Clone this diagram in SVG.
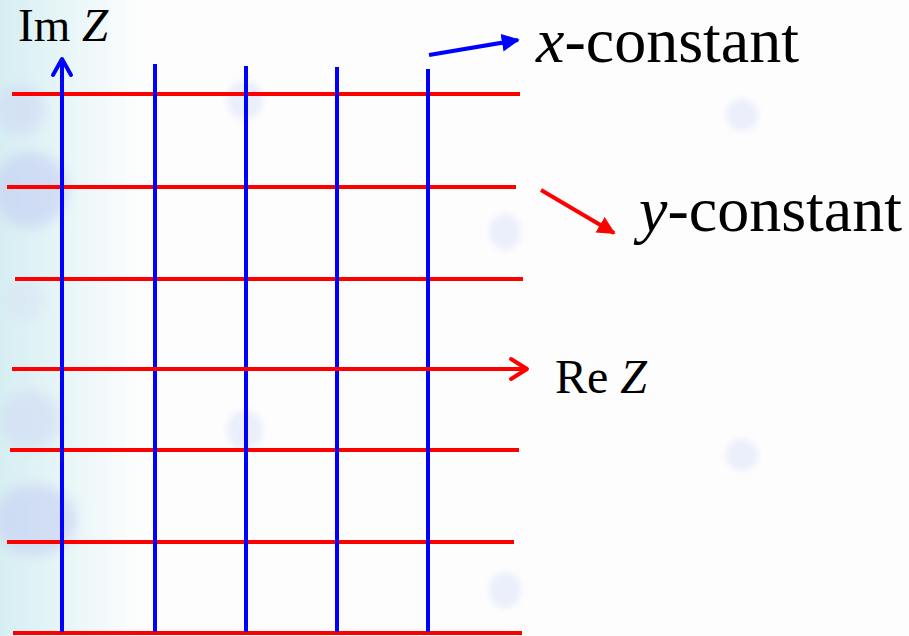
<svg xmlns="http://www.w3.org/2000/svg" width="909" height="636" viewBox="0 0 909 636">
<defs>
<style>
.h{stroke:#ff0000;stroke-width:4;fill:none}
.v{stroke:#0000ff;stroke-width:4;fill:none}
.t{font-family:"Liberation Serif","Times New Roman",serif;fill:#000}
.blob{fill:#ebeffb}
</style>
<linearGradient id="bg" x1="0" y1="0" x2="1" y2="0">
<stop offset="0" stop-color="#d6eef2"/>
<stop offset="0.5" stop-color="#e9f6f8"/>
<stop offset="1" stop-color="#fdfdfe"/>
</linearGradient>
<filter id="blur" x="-50%" y="-50%" width="200%" height="200%"><feGaussianBlur stdDeviation="6"/></filter>
<filter id="blur2" x="-50%" y="-50%" width="200%" height="200%"><feGaussianBlur stdDeviation="3"/></filter>
<marker id="ab" viewBox="0 0 10 10" refX="9" refY="5" markerWidth="4.5" markerHeight="4.5" orient="auto" markerUnits="strokeWidth"><path d="M0,0 L10,5 L0,10 Z" fill="#0000ff"/></marker>
<marker id="ar" viewBox="0 0 10 10" refX="9" refY="5" markerWidth="4.5" markerHeight="4.5" orient="auto" markerUnits="strokeWidth"><path d="M0,0 L10,5 L0,10 Z" fill="#ff0000"/></marker>
</defs>
<g id="background">
<rect width="909" height="636" fill="#fdfdfe"/>
<rect width="140" height="636" fill="url(#bg)"/>
<g filter="url(#blur)" opacity="0.65">
<ellipse cx="30" cy="190" rx="38" ry="38" fill="#c7d2f4"/>
<ellipse cx="20" cy="110" rx="25" ry="25" fill="#d0daf5"/>
<ellipse cx="35" cy="520" rx="42" ry="36" fill="#c9d3f4"/>
<ellipse cx="30" cy="420" rx="30" ry="30" fill="#d3ddf5"/>
<ellipse cx="25" cy="300" rx="20" ry="20" fill="#dae6f5"/>
</g>
<g filter="url(#blur2)">
<ellipse class="blob" cx="742" cy="115" rx="16" ry="16"/>
<ellipse class="blob" cx="742" cy="455" rx="16" ry="16"/>
<ellipse class="blob" cx="505" cy="232" rx="16" ry="18"/>
<ellipse class="blob" cx="505" cy="590" rx="16" ry="18"/>
<ellipse class="blob" cx="245" cy="100" rx="18" ry="20"/>
<ellipse class="blob" cx="245" cy="430" rx="18" ry="20"/>
</g>
</g>
<g id="grid">
<g id="y-lines">
<line class="h" x1="12" y1="94" x2="520" y2="94"/>
<line class="h" x1="7" y1="187" x2="516" y2="187"/>
<line class="h" x1="15" y1="279" x2="523" y2="279"/>
<line class="h" x1="10" y1="450" x2="519" y2="450"/>
<line class="h" x1="7" y1="542" x2="514" y2="542"/>
<line class="h" x1="13" y1="633" x2="522" y2="633"/>
</g>
<g id="x-lines">
<line class="v" x1="155" y1="64" x2="155" y2="632"/>
<line class="v" x1="246" y1="66" x2="246" y2="632"/>
<line class="v" x1="337" y1="67" x2="337" y2="632"/>
<line class="v" x1="428" y1="69" x2="428" y2="632"/>
</g>
</g>
<g id="axes">
<line class="h" x1="12" y1="369" x2="526" y2="369"/>
<polyline class="h" points="511,359 527,369 511,379" stroke-linecap="round" stroke-linejoin="round"/>
<line class="v" x1="62" y1="632" x2="62" y2="59"/>
<polyline class="v" points="53,75 62,59 71,75" stroke-linecap="round" stroke-linejoin="round"/>
</g>
<g id="connectors">
<line x1="429" y1="55" x2="518" y2="40" stroke="#0000ff" stroke-width="4" marker-end="url(#ab)"/>
<line x1="541" y1="190" x2="614" y2="233" stroke="#ff0000" stroke-width="4" marker-end="url(#ar)"/>
</g>
<g id="labels">
<text class="t" x="18" y="41" font-size="47" font-family="Liberation Serif, serif">Im <tspan font-style="italic">Z</tspan></text>
<text class="t" x="555" y="393" font-size="48" font-family="Liberation Serif, serif">Re <tspan font-style="italic">Z</tspan></text>
<text class="t" x="536" y="62" font-size="64" font-family="Liberation Serif, serif"><tspan font-style="italic">x</tspan>-constant</text>
<text class="t" x="639" y="231" font-size="64" font-family="Liberation Serif, serif"><tspan font-style="italic">y</tspan>-constant</text>
</g>
</svg>
